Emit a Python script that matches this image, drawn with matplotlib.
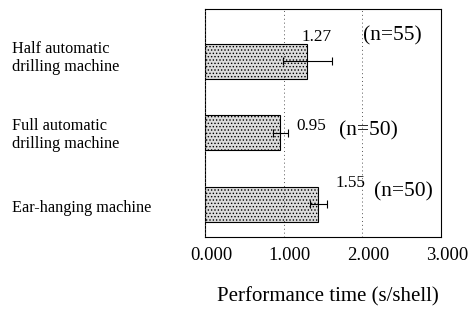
import matplotlib
matplotlib.use("Agg")
import matplotlib.pyplot as plt
import matplotlib.transforms as mtransforms

plt.rcParams["font.family"] = ["Liberation Serif", "DejaVu Serif"]
plt.rcParams["hatch.linewidth"] = 0.6

# Data
machines = ["Half automatic\ndrilling machine",
            "Full automatic\ndrilling machine",
            "Ear-hanging machine"]
times = [1.30, 0.96, 1.44]
errors = [0.31, 0.10, 0.11]
value_labels = ["1.27", "0.95", "1.55"]
n_labels = ["(n=55)", "(n=50)", "(n=50)"]
xticks = [0, 1, 2, 3]

fig = plt.figure(figsize=(4.7, 3.15), dpi=100)
ax = fig.add_axes([0.436, 0.248, 0.502, 0.723])

pos = list(range(len(machines)))
ax.barh(pos, times, height=0.49, color="#dcdcdc", edgecolor="black",
        hatch=".....", linewidth=0.8, zorder=2)
ax.errorbar(times, pos, xerr=errors, fmt="none", ecolor="black",
            elinewidth=0.8, capsize=3, capthick=0.8, zorder=3)

ax.set_xlim(0, 3)
ax.set_ylim(2.46, -0.73)
ax.set_xticks(xticks)
ax.set_xticklabels([f"{t:.3f}" for t in xticks], fontsize=13.4)
ax.set_yticks([])
ax.tick_params(axis="x", length=0, pad=7)
# labels in the reference sit a few pixels right of the grid lines
shift = mtransforms.ScaledTranslation(6 / 100, 0, fig.dpi_scale_trans)
for lbl in ax.get_xticklabels():
    lbl.set_transform(lbl.get_transform() + shift)
ax.xaxis.grid(True, linestyle=(0, (1, 3)), color="#555555", linewidth=0.7, zorder=4)
ax.set_axisbelow(False)
for s in ax.spines.values():
    s.set_linewidth(0.8)

# value and sample-size labels
val_pos = [(1.42, -0.34), (1.35, 0.90), (1.85, 1.71)]
n_pos = [(2.38, -0.36), (2.08, 0.97), (2.52, 1.83)]
for i in range(len(machines)):
    ax.text(val_pos[i][0], val_pos[i][1], value_labels[i], ha="center",
            va="center", fontsize=12.3)
    ax.text(n_pos[i][0], n_pos[i][1], n_labels[i], ha="center",
            va="center", fontsize=15.5)

# category labels on the left
label_y = [58, 135, 208]
for lab, py in zip(machines, label_y):
    fig.text(0.026, 1 - py / 315, lab, ha="left", va="center", fontsize=11.7,
             linespacing=1.2)

fig.text(0.698, 1 - 297 / 315, "Performance time (s/shell)", ha="center",
         va="center", fontsize=15)

fig.savefig("out.png", dpi=100)
